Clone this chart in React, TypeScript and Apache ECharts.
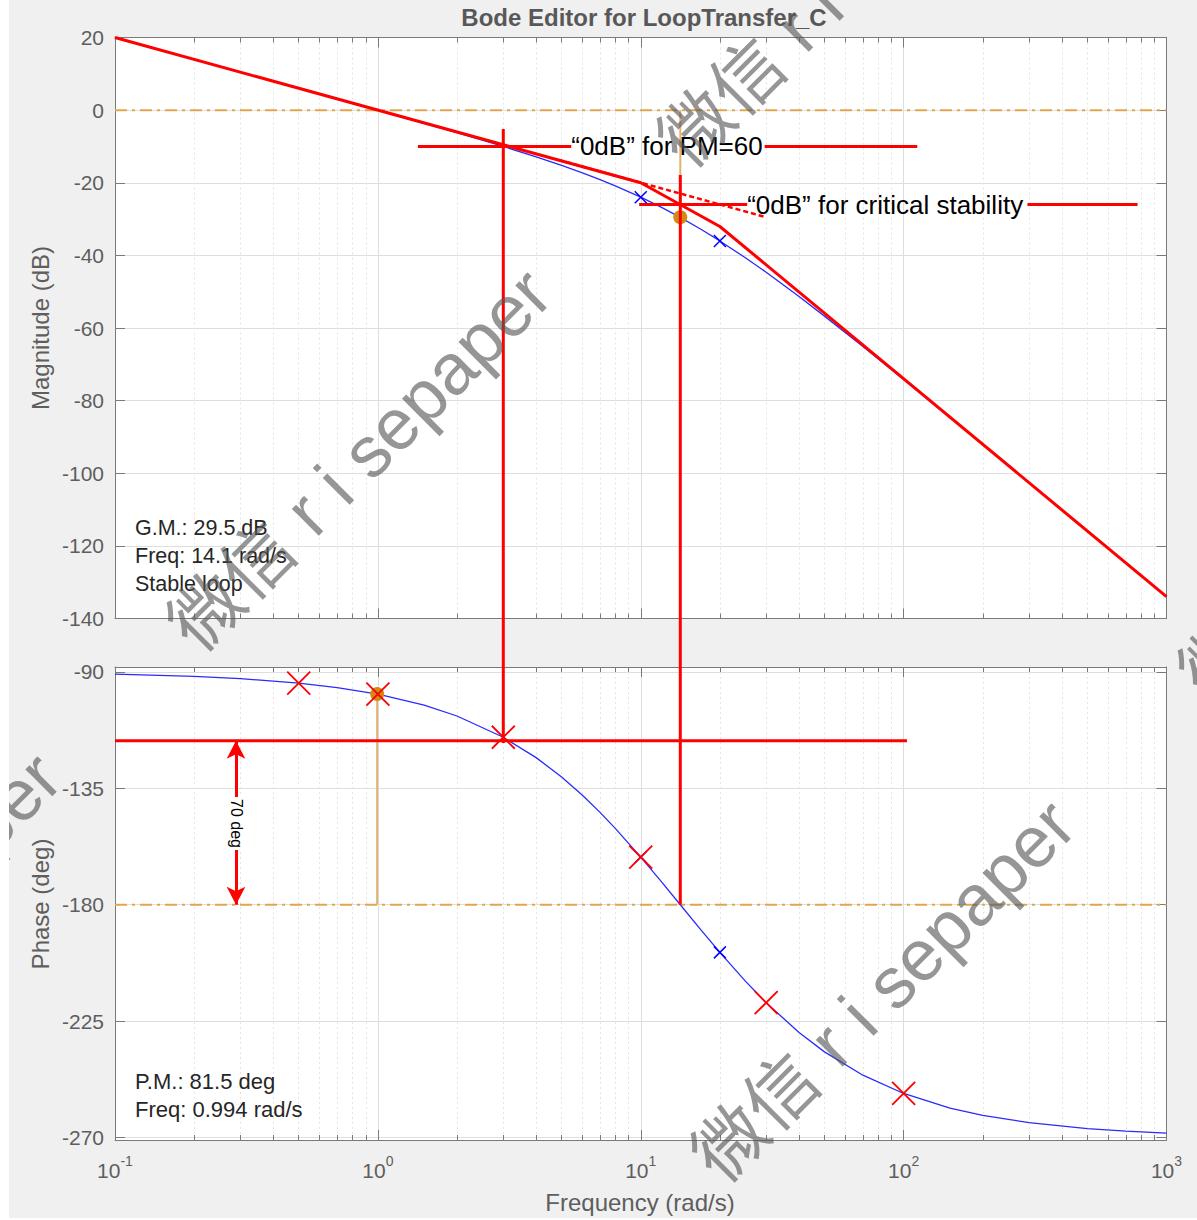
import React, { useEffect, useRef } from 'react';
import * as echarts from 'echarts';

// ---------------- values ----------------
const freq = [0.1, 0.2, 0.3, 0.5, 0.7, 1, 1.5, 2, 3, 4, 5, 6, 7, 8, 10, 12, 14.14, 17, 20, 25, 30, 40, 50, 70, 100, 150, 200, 300, 500, 700, 1000];
const magDb = [20.0, 13.98, 10.45, 6.01, 3.07, -0.05, -3.64, -6.23, -10.01, -12.86, -15.21, -17.27, -19.14, -20.86, -23.98, -26.79, -29.54, -32.87, -36.02, -40.65, -44.66, -51.34, -56.73, -65.11, -74.19, -84.64, -92.1, -102.63, -115.93, -124.69, -133.98];
const phaseDeg = [-90.86, -91.72, -92.58, -94.29, -96.01, -98.57, -102.82, -107.02, -115.23, -123.11, -130.6, -137.66, -144.28, -150.46, -161.57, -171.15, -180.0, -189.89, -198.43, -209.54, -217.88, -229.39, -236.89, -245.92, -252.98, -258.6, -261.43, -264.28, -266.56, -267.54, -268.28];

const poleFreq = [10, 20];
const poleMagDb = [-23.98, -36.02];
const polePhaseDeg = [-161.57, -198.43];

const markerFreq = [0.5, 1, 3, 10, 30, 100];
const markerPhaseDeg = [-94.29, -98.57, -115.23, -161.57, -217.88, -252.98];

const gmFreq = 14.14;
const gmDb = -29.5;
const pmFreq = 0.994;
const pmPhaseDeg = -98.5;
const refDb = 0;
const refPhaseDeg = -180;

const asymFreq = [0.1, 10, 20, 1000];
const asymDb = [20, -20, -32.04, -133.98];
const extFreq = [4.85, 30];
const extDb = [-13.7, -29.5];

const pmLineDb = -10;
const pmLineFreqA = [1.42, 5.44];
const pmLineFreqB = [29.6, 112.7];
const critLineDb = -26;
const critLineFreqA = [9.86, 25.4];
const critLineFreqB = [295.8, 776];
const phaseLineDeg = -116.6;
const phaseLineFreq = [0.1, 103];
const vline1Freq = 3;
const vline1TopDb = -5.2;
const vline1BottomDeg = -117.5;
const vline2Freq = 14.14;
const vline2TopDb = -17.9;
const vline2BottomDeg = -180;
const arrowFreq = 0.2886;
const arrowDeg = [-116.6, -180];
const arrowLabelDeg = -148.6;

const xRange = [0.1, 1000];
const magRange = [-140, 20];
const magStep = 20;
const phaseRange = [-270.97, -88.07];
const phaseTicks = [-270, -225, -180, -135, -90];
const minorDecades = [-1, 0, 1, 2];
const minorMultipliers = [2, 3, 4, 5, 6, 7, 8, 9];

const titleText = 'Bode Editor for LoopTransfer_C';
const magName = 'Magnitude (dB)';
const phaseName = 'Phase (deg)';
const freqName = 'Frequency (rad/s)';
const gmLines = ['G.M.: 29.5 dB', 'Freq: 14.1 rad/s', 'Stable loop'];
const pmLines = ['P.M.: 81.5 deg', 'Freq: 0.994 rad/s'];
const pmAnnot = '\u201C0dB\u201D for PM=60';
const critAnnot = '\u201C0dB\u201D for critical stability';
const arrowAnnot = '70 deg';
const watermark = '\u5FAE\u4FE1 r i sepaper';

// ---------------- styling ----------------
const OX = 9;
const FONT = '"Liberation Sans", Arial, Helvetica, sans-serif';
const AX = '#7a7a7a';
const GRID = '#DEDEDE';
const MINOR = '#E4E4E4';
const LABEL = '#5e5e5e';
const RED = '#FF0000';
const BLUE = '#2a2aff';
const ORANGE = '#DFA64E';
const ORANGE_V = '#E0B270';
const DOT = '#D08A16';
const X_PATH = 'path://M0,0L10,10M0,10L10,0';

const pairs = (xs: number[], ys: number[]) => xs.map((x, i) => [x, ys[i]]);
const minorExps = minorDecades.flatMap((d) => minorMultipliers.map((k) => d + Math.log10(k)));

function xAxesFor(gridIndex: number, withLabels: boolean) {
  const line = { show: true, onZero: false, lineStyle: { color: AX, width: 1 } };
  const majorTick = { show: true, inside: true, length: 10, lineStyle: { color: AX, width: 1 } };
  const minorTick = { show: true, inside: true, length: 5, customValues: minorExps, lineStyle: { color: AX, width: 1 } };
  return [
    {
      gridIndex, type: 'log', logBase: 10, min: xRange[0], max: xRange[1], position: 'bottom',
      axisLine: line, axisTick: majorTick,
      splitLine: { show: true, lineStyle: { color: GRID, width: 1 } },
      axisLabel: withLabels
        ? {
            show: true, margin: 14, showMinLabel: true, showMaxLabel: true,
            formatter: (v: number) => `{b|10}{s|${Math.round(Math.log10(v))}}`,
            rich: {
              b: { fontSize: 21, color: LABEL, fontFamily: FONT, lineHeight: 32 },
              s: { fontSize: 14, color: LABEL, fontFamily: FONT, lineHeight: 15, verticalAlign: 'top' },
            },
          }
        : { show: false },
    },
    {
      gridIndex, type: 'log', logBase: 10, min: xRange[0], max: xRange[1], position: 'top',
      axisLine: line, axisTick: majorTick, splitLine: { show: false }, axisLabel: { show: false },
    },
    {
      gridIndex, type: 'value', min: -1, max: 3, position: 'bottom',
      axisLine: { show: false, onZero: false }, axisTick: minorTick,
      splitLine: { show: true, lineStyle: { color: MINOR, width: 1, type: [2, 3] } },
      axisLabel: { show: false },
    },
    {
      gridIndex, type: 'value', min: -1, max: 3, position: 'top',
      axisLine: { show: false, onZero: false }, axisTick: minorTick,
      splitLine: { show: false }, axisLabel: { show: false },
    },
  ];
}

function yAxesFor(gridIndex: number, range: number[], step: number | null, ticks: number[] | null) {
  const line = { show: true, onZero: false, lineStyle: { color: AX, width: 1 } };
  const tick: any = { show: true, inside: true, length: 10, lineStyle: { color: AX, width: 1 } };
  const label: any = { show: true, color: LABEL, fontSize: 21, fontFamily: FONT, margin: 11 };
  const base: any = { gridIndex, type: 'value', min: range[0], max: range[1] };
  if (step !== null) base.interval = step;
  if (ticks) { tick.customValues = ticks; label.customValues = ticks; }
  return [
    {
      ...base, position: 'left', axisLine: line, axisTick: tick,
      splitLine: { show: true, lineStyle: { color: GRID, width: 1 } },
      axisLabel: label,
    },
    {
      ...base, position: 'right', axisLine: line, axisTick: tick,
      splitLine: { show: false }, axisLabel: { show: false },
    },
  ];
}

const TOP = { xAxisIndex: 0, yAxisIndex: 0 };
const BOT = { xAxisIndex: 4, yAxisIndex: 2 };

function lineSeries(axes: any, data: any[], color: string, width: number, type: any = 'solid', z = 3, extra: any = {}) {
  return {
    type: 'line', ...axes, data, symbol: 'none', showSymbol: false, silent: true,
    lineStyle: { color, width, type }, z, ...extra,
  };
}

function scatterSeries(axes: any, data: any[], symbol: string, size: number, fill: string, stroke: string, bw: number, z: number) {
  return {
    type: 'scatter', ...axes, data, symbol, symbolSize: size, silent: true, z,
    itemStyle: { color: fill, borderColor: stroke, borderWidth: bw, opacity: 1 },
  };
}

function buildOption(): any {
  const dashDot = [12, 5, 3, 5];
  return {
    animation: false,
    backgroundColor: '#F0F0F0',
    grid: [
      { left: 106, top: 37.5, width: 1051.5, height: 581, show: true, backgroundColor: '#FFFFFF', borderWidth: 0, containLabel: false, outerBoundsMode: 'none' },
      { left: 106, top: 667, width: 1051.5, height: 473, show: true, backgroundColor: '#FFFFFF', borderWidth: 0, containLabel: false, outerBoundsMode: 'none' },
    ],
    xAxis: [...xAxesFor(0, false), ...xAxesFor(1, true)],
    yAxis: [...yAxesFor(0, magRange, magStep, null), ...yAxesFor(1, phaseRange, null, phaseTicks)],
    series: [
      lineSeries(TOP, pairs(freq, magDb), BLUE, 1.3, 'solid', 4),
      lineSeries(BOT, pairs(freq, phaseDeg), BLUE, 1.3, 'solid', 4),
      lineSeries(TOP, [[xRange[0], refDb], [xRange[1], refDb]], ORANGE, 2, dashDot, 3),
      lineSeries(BOT, [[xRange[0], refPhaseDeg], [xRange[1], refPhaseDeg]], ORANGE, 2, dashDot, 3),
      lineSeries(TOP, [[gmFreq, refDb], [gmFreq, gmDb]], ORANGE_V, 2, 'solid', 3),
      lineSeries(BOT, [[pmFreq, pmPhaseDeg], [pmFreq, refPhaseDeg]], ORANGE_V, 2, 'solid', 3),
      lineSeries(TOP, pairs(asymFreq, asymDb), RED, 3, 'solid', 6),
      lineSeries(TOP, pairs(extFreq, extDb), RED, 2.5, [5, 3], 6),
      lineSeries(TOP, pmLineFreqA.map((f) => [f, pmLineDb]), RED, 3, 'solid', 6),
      lineSeries(TOP, pmLineFreqB.map((f) => [f, pmLineDb]), RED, 3, 'solid', 6),
      lineSeries(TOP, critLineFreqA.map((f) => [f, critLineDb]), RED, 3, 'solid', 6),
      lineSeries(TOP, critLineFreqB.map((f) => [f, critLineDb]), RED, 3, 'solid', 6),
      lineSeries(BOT, phaseLineFreq.map((f) => [f, phaseLineDeg]), RED, 3, 'solid', 6, {
        markLine: {
          silent: true, animation: false, symbol: ['arrow', 'arrow'], symbolSize: [14, 18],
          label: { show: false }, emphasis: { disabled: true },
          lineStyle: { color: RED, width: 3, type: 'solid' },
          data: [[{ coord: [arrowFreq, arrowDeg[0]] }, { coord: [arrowFreq, arrowDeg[1]] }]],
        },
      }),
      scatterSeries(TOP, pairs(poleFreq, poleMagDb), X_PATH, 12, 'rgba(0,0,0,0)', '#0000FF', 1.5, 7),
      scatterSeries(BOT, pairs(poleFreq, polePhaseDeg), X_PATH, 12, 'rgba(0,0,0,0)', '#0000FF', 1.5, 7),
      scatterSeries(BOT, pairs(markerFreq, markerPhaseDeg), X_PATH, 23, 'rgba(0,0,0,0)', RED, 1.8, 8),
      scatterSeries(TOP, [[gmFreq, gmDb]], 'circle', 14, DOT, DOT, 0, 5),
      scatterSeries(BOT, [[pmFreq, pmPhaseDeg]], 'circle', 14, DOT, DOT, 0, 5),
    ],
  };
}

function text(x: number, y: number, str: string, o: any = {}) {
  const align = o.align || 'left';
  const style: any = {
    text: str, fill: o.fill || '#000', fontSize: o.size || 20, fontFamily: o.family || FONT,
    fontWeight: o.weight || 'normal', align, verticalAlign: 'middle', textAlign: align, textVerticalAlign: 'middle',
  };
  if (o.bg) { style.backgroundColor = o.bg; style.padding = o.pad || [0, 0]; }
  return { type: 'text', x, y, rotation: o.rotation || 0, z: o.z || 20, silent: true, style };
}

function buildGraphics(chart: any): any[] {
  const top = (f: number, v: number) => chart.convertToPixel({ seriesIndex: 0 }, [f, v]);
  const bot = (f: number, v: number) => chart.convertToPixel({ seriesIndex: 1 }, [f, v]);
  const els: any[] = [];
  const vline = (a: number[], b: number[]) => ({
    type: 'line', z: 15, silent: true,
    shape: { x1: a[0], y1: a[1], x2: b[0], y2: b[1] },
    style: { stroke: RED, lineWidth: 3 },
  });
  els.push(vline(top(vline1Freq, vline1TopDb), bot(vline1Freq, vline1BottomDeg)));
  els.push(vline(top(vline2Freq, vline2TopDb), bot(vline2Freq, vline2BottomDeg)));

  const p1 = top(pmLineFreqA[1], pmLineDb);
  els.push(text(p1[0], p1[1], pmAnnot, { size: 26 }));
  const p2 = top(critLineFreqA[1], critLineDb);
  els.push(text(p2[0], p2[1], critAnnot, { size: 26 }));
  const p3 = bot(arrowFreq, arrowLabelDeg);
  els.push(text(p3[0], p3[1], arrowAnnot, { size: 16, align: 'center', rotation: -Math.PI / 2, bg: '#FFFFFF', pad: [0, 2] }));

  // fixed labels (page coordinates minus container offset)
  els.push(text(644 - OX, 17, titleText, { size: 24, weight: 'bold', fill: '#585858', align: 'center' }));
  els.push(text(40 - OX, 328, magName, { size: 24, fill: LABEL, align: 'center', rotation: Math.PI / 2 }));
  els.push(text(40 - OX, 904, phaseName, { size: 24, fill: LABEL, align: 'center', rotation: Math.PI / 2 }));
  els.push(text(640 - OX, 1202, freqName, { size: 24, fill: LABEL, align: 'center' }));
  gmLines.forEach((s, i) => els.push(text(135 - OX, 528 + i * 28, s, { size: 21.5, fill: '#262626' })));
  pmLines.forEach((s, i) => els.push(text(135 - OX, 1081 + i * 28, s, { size: 22, fill: '#262626' })));

  // watermarks: first glyph centres
  const wmSize = 72;
  const centres = [[207, 612], [697, 128], [731, 1143], [-283, 1096], [1218, 660]];
  const d = (wmSize / 2) * Math.SQRT1_2;
  centres.forEach((c) => {
    els.push(text(c[0] - d - OX, c[1] + d, watermark, {
      size: wmSize, fill: 'rgba(85,85,85,0.62)', family: '"Liberation Sans", "Noto Sans CJK SC", sans-serif',
      rotation: Math.PI / 4, z: 100,
    }));
  });
  return els;
}

export default function App() {
  const ref = useRef<HTMLDivElement>(null);
  useEffect(() => {
    const chart = echarts.init(ref.current as HTMLDivElement, null, { renderer: 'svg' });
    chart.setOption(buildOption());
    chart.setOption({ graphic: { elements: buildGraphics(chart) } });
    return () => chart.dispose();
  }, []);
  return (
    <div style={{ position: 'absolute', left: 0, top: 0, width: 1197, height: 1220, background: '#FFFFFF' }}>
      <div ref={ref} style={{ position: 'absolute', left: OX, top: 0, width: 1197 - OX, height: 1218 }} />
    </div>
  );
}
